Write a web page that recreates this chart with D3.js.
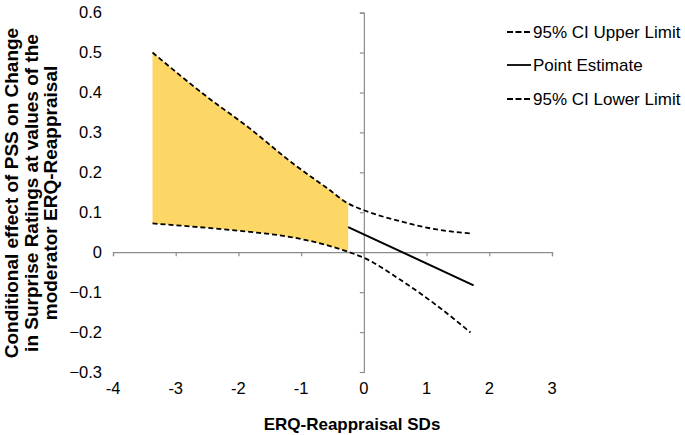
<!DOCTYPE html>
<html>
<head>
<meta charset="utf-8">
<script src="https://cdn.jsdelivr.net/npm/d3@7"></script>
<style>
  html, body { margin: 0; padding: 0; background: #fff; }
  svg { display: block; font-family: "Liberation Sans", Arial, Helvetica, sans-serif; }
</style>
</head>
<body>
<svg id="chart" width="685" height="435"></svg>
<script>
// ---- Data ----
const xTicks = [-4, -3, -2, -1, 0, 1, 2, 3];
const yTicks = [-0.3, -0.2, -0.1, 0, 0.1, 0.2, 0.3, 0.4, 0.5, 0.6];

const ciX     = [-3.37, -2.5, -1.82, -1.13, -0.6, -0.25, 0, 0.57, 1.16, 1.70];
const ciUpper = [0.500, 0.389, 0.310, 0.222, 0.162, 0.122, 0.105, 0.078, 0.057, 0.047];
const ciLower = [0.072, 0.061, 0.051, 0.037, 0.018, 0.001, -0.014, -0.068, -0.133, -0.201];

// visible part of the point estimate (right of the shaded region)
const estX = [-0.25, 1.75];
const estY = [0.063, -0.083];

// region of significance (shaded)
const regionStart = -3.37;
const regionEnd = -0.25;

const legendLabels = ["95% CI Upper Limit", "Point Estimate", "95% CI Lower Limit"];

// ---- Layout ----
const svg = d3.select("#chart");
const x = d3.scaleLinear().domain([-4, 3]).range([113, 552]);
const y = d3.scaleLinear().domain([-0.3, 0.6]).range([372, 12.6]);

const axisColor = "#8c8c8c";

const ciPts = ciX.map((v, i) => ({x: v, u: ciUpper[i], l: ciLower[i]}));
const shaded = ciPts.filter(d => d.x >= regionStart && d.x <= regionEnd);

svg.append("path")
  .datum(shaded)
  .attr("fill", "#fdd766")
  .attr("stroke", "none")
  .attr("d", d3.area().x(d => x(d.x)).y0(d => y(d.l)).y1(d => y(d.u)).curve(d3.curveMonotoneX));

// Axes (crossing at 0,0)
const xAxis = d3.axisBottom(x).tickValues(xTicks).tickSize(4).tickFormat("");
const gx = svg.append("g").attr("transform", `translate(0,${y(0)})`).call(xAxis);
const yAxis = d3.axisLeft(y).tickValues(yTicks).tickSize(4).tickFormat("");
const gy = svg.append("g").attr("transform", `translate(${x(0)},0)`).call(yAxis);
[gx, gy].forEach(g => {
  g.select(".domain").attr("stroke", axisColor).attr("stroke-width", 1.2);
  g.selectAll(".tick line").attr("stroke", axisColor).attr("stroke-width", 1.2);
});

// point estimate
const estPts = estX.map((v, i) => ({x: v, y: estY[i]}));
svg.append("path")
  .datum(estPts)
  .attr("fill", "none")
  .attr("stroke", "#000")
  .attr("stroke-width", 2)
  .attr("d", d3.line().x(d => x(d.x)).y(d => y(d.y)));

// CI lines
const ciLine = key => d3.line().x(d => x(d.x)).y(d => y(d[key])).curve(d3.curveMonotoneX);
["u", "l"].forEach(k => {
  svg.append("path")
    .datum(ciPts)
    .attr("fill", "none")
    .attr("stroke", "#000")
    .attr("stroke-width", 1.8)
    .attr("stroke-dasharray", "5,3")
    .attr("d", ciLine(k));
});

// Tick labels
const fmt = d => d === 0 ? "0" : d3.format(".1f")(d);
svg.append("g").selectAll("text").data(yTicks).join("text")
  .attr("x", 102).attr("y", d => y(d)).attr("dy", "0.35em")
  .attr("text-anchor", "end").attr("font-size", 16.5).attr("fill", "#000")
  .text(fmt);
svg.append("g").selectAll("text").data(xTicks).join("text")
  .attr("x", d => x(d)).attr("y", 394)
  .attr("text-anchor", "middle").attr("font-size", 16.5).attr("fill", "#000")
  .text(d => d);

// Axis titles
svg.append("text")
  .attr("x", 352).attr("y", 430)
  .attr("text-anchor", "middle").attr("font-size", 17).attr("font-weight", "bold")
  .text("ERQ-Reappraisal SDs");

const yTitle = ["Conditional effect of PSS on Change", "in Surprise Ratings at values of the", "moderator ERQ-Reappraisal"];
const yt = svg.append("text")
  .attr("transform", "translate(18,193) rotate(-90)")
  .attr("text-anchor", "middle").attr("font-size", 19).attr("font-weight", "bold");
yt.selectAll("tspan").data(yTitle).join("tspan")
  .attr("x", 0).attr("dy", (d, i) => i === 0 ? 0 : 19.5)
  .text(d => d);

// Legend
const legendY = [32, 65, 99];
const lg = svg.append("g");
legendLabels.forEach((t, i) => {
  lg.append("line")
    .attr("x1", 507).attr("x2", 531).attr("y1", legendY[i]).attr("y2", legendY[i])
    .attr("stroke", "#000").attr("stroke-width", 1.8)
    .attr("stroke-dasharray", i === 1 ? null : "6,2.5");
  lg.append("text")
    .attr("x", 533).attr("y", legendY[i]).attr("dy", "0.35em")
    .attr("font-size", 17).text(t);
});
</script>
</body>
</html>
